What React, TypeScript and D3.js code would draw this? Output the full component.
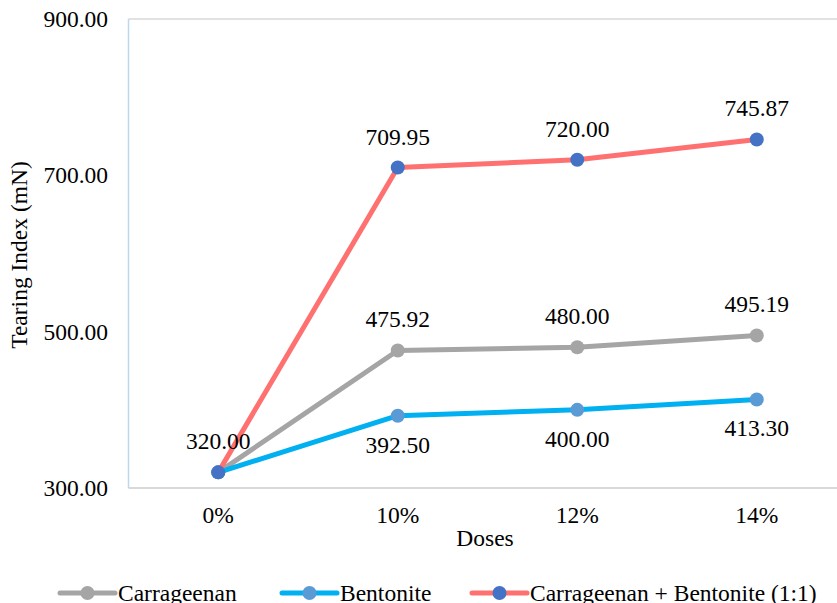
import React from "react";
import * as d3 from "d3";

const categories = ["0%", "10%", "12%", "14%"];
const carrageenan = [320.0, 475.92, 480.0, 495.19];
const bentonite = [320.0, 392.5, 400.0, 413.3];
const combined = [320.0, 709.95, 720.0, 745.87];
const yTicks = [300, 500, 700, 900];

const series = [
  { name: "Carrageenan", values: carrageenan, line: "#A5A5A5", marker: "#A5A5A5", labelPos: "above", showLabels: [false, true, true, true] },
  { name: "Bentonite", values: bentonite, line: "#00B0F0", marker: "#5B9BD5", labelPos: "below", showLabels: [false, true, true, true] },
  { name: "Carrageenan + Bentonite (1:1)", values: combined, line: "#FF7171", marker: "#4472C4", labelPos: "above", showLabels: [true, true, true, true] },
];

const W = 837;
const H = 603;
const left = 128.5;
const top = 19;
const bottom = 488;
const FONT = "'Liberation Serif', 'DejaVu Serif', serif";
const FS = 23.5;
const tStyle: React.CSSProperties = { fontFamily: FONT, fontSize: FS };

export default function App() {
  const x = d3.scaleBand().domain(categories).range([left, left + 718]);
  const y = d3.scaleLinear().domain([300, 900]).range([bottom, top]);
  const cx = (c: string) => (x(c) as number) + x.bandwidth() / 2;
  const lineGen = d3
    .line<number>()
    .x((_, i) => cx(categories[i]))
    .y((d) => y(d));

  const legend = [
    { s: series[0], x0: 60, tx: 118 },
    { s: series[1], x0: 282, tx: 340 },
    { s: series[2], x0: 472, tx: 530 },
  ];
  const ly = 593;

  return (
    <svg width={W} height={H} style={{ position: "absolute", left: 0, top: 0, background: "#fff" }}>
      <rect x={0} y={0} width={W} height={H} fill="#fff" />
      <line x1={left} x2={W} y1={y(900)} y2={y(900)} stroke="#D9D9D9" strokeWidth={1.5} />
      <line x1={left} x2={W} y1={y(300)} y2={y(300)} stroke="#D9D9D9" strokeWidth={2} />
      <line x1={left} x2={left} y1={top} y2={bottom} stroke="#BDD7EE" strokeWidth={1.5} />
      {yTicks.map((t) => (
        <text key={t} x={108} y={y(t) + 8} textAnchor="end" style={tStyle} fill="#000">
          {t.toFixed(2)}
        </text>
      ))}
      {categories.map((c) => (
        <text key={c} x={cx(c)} y={523} textAnchor="middle" style={tStyle} fill="#000">
          {c}
        </text>
      ))}
      <text x={485} y={546} textAnchor="middle" style={tStyle} fill="#000">
        Doses
      </text>
      <text transform={`translate(27,255) rotate(-90)`} textAnchor="middle" style={tStyle} fill="#000">
        Tearing Index (mN)
      </text>
      {series.map((s) => (
        <g key={s.name}>
          <path d={lineGen(s.values) as string} fill="none" stroke={s.line} strokeWidth={5} strokeLinejoin="round" />
          {s.values.map((v, i) => (
            <circle key={i} cx={cx(categories[i])} cy={y(v)} r={7} fill={s.marker} />
          ))}
        </g>
      ))}
      {series.map((s) =>
        s.values.map((v, i) =>
          s.showLabels[i] ? (
            <text
              key={s.name + i}
              x={cx(categories[i])}
              y={s.labelPos === "above" ? y(v) - 23 : y(v) + 37}
              textAnchor="middle"
              style={tStyle}
              fill="#000"
            >
              {v.toFixed(2)}
            </text>
          ) : null
        )
      )}
      {legend.map(({ s, x0, tx }) => (
        <g key={s.name}>
          <line x1={x0} x2={x0 + 55} y1={ly} y2={ly} stroke={s.line} strokeWidth={5} strokeLinecap="round" />
          <circle cx={x0 + 27.5} cy={ly} r={7} fill={s.marker} />
          <text x={tx} y={601} style={tStyle} fill="#000">
            {s.name}
          </text>
        </g>
      ))}
    </svg>
  );
}
